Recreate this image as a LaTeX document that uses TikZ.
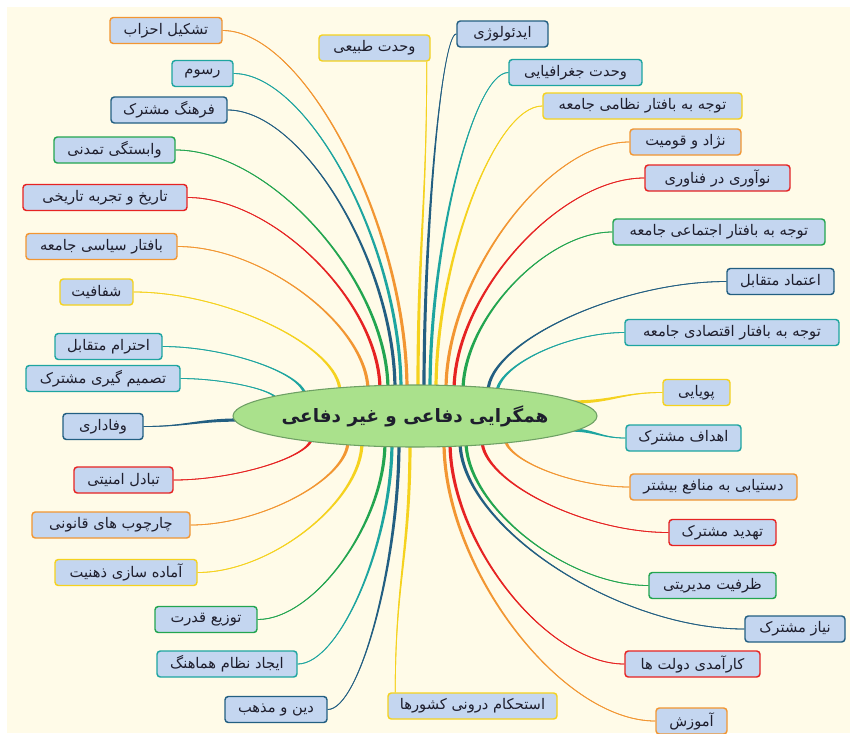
\documentclass[tikz,border=0pt]{standalone}
\usepackage{fontspec}
\usetikzlibrary{calc,shapes.geometric}
\newfontfamily\arabicfont[Script=Arabic]{DejaVu Sans}
\TeXXeTstate=1
\pgfdeclarelayer{back}\pgfdeclarelayer{conn}\pgfsetlayers{back,conn,main}
\definecolor{cOr}{RGB}{242,150,50}
\definecolor{cTe}{RGB}{30,165,160}
\definecolor{cBl}{RGB}{35,95,130}
\definecolor{cGr}{RGB}{35,165,80}
\definecolor{cRe}{RGB}{230,35,35}
\definecolor{cYe}{RGB}{245,210,30}
\definecolor{cream}{RGB}{255,251,232}
\definecolor{boxfill}{RGB}{196,214,240}
\definecolor{hubfill}{RGB}{170,225,140}
\definecolor{hubdraw}{RGB}{110,160,100}
\definecolor{txt}{RGB}{30,30,45}
\newcommand\fa[1]{\beginR#1\endR}
\def\wa{0.3pt}\def\wb{1.2pt}
\newcommand\linkdraw[1]{%
  \fill[#1] ($(S)!\wa!90:(C1)$) .. controls ($(C1)!\wa!-90:(S)$) and ($(C2)!\wb!90:(E)$) .. ($(E)!\wb!-90:(C2)$)
     -- ($(E)!\wb!90:(C2)$) .. controls ($(C2)!\wb!-90:(E)$) and ($(C1)!\wa!90:(S)$) .. ($(S)!\wa!-90:(C1)$) -- cycle;
  \draw[#1, line width=0.6pt] (S) .. controls (C1) and (C2) .. (E);}
\newcommand\linkhv[3]{%
  \path (#2) coordinate (S) (#3) coordinate (E);
  \path ($(S)!0.45!(E)$) coordinate (M1) ($(S)!0.55!(E)$) coordinate (M2);
  \path (M1 |- S) coordinate (C1) (E |- M2) coordinate (C2);
  \linkdraw{#1}}
\newcommand\linkhh[3]{%
  \path (#2) coordinate (S) (#3) coordinate (E);
  \path ($(S)!0.45!(E)$) coordinate (M1) ($(S)!0.55!(E)$) coordinate (M2);
  \path (M1 |- S) coordinate (C1) (M2 |- E) coordinate (C2);
  \linkdraw{#1}}
\newcommand\linkvv[3]{%
  \path (#2) coordinate (S) (#3) coordinate (E);
  \path ($(S)!0.45!(E)$) coordinate (M1) ($(S)!0.55!(E)$) coordinate (M2);
  \path (S |- M1) coordinate (C1) (E |- M2) coordinate (C2);
  \linkdraw{#1}}
\tikzset{
  box/.style 2 args={draw=#1, fill=boxfill, rounded corners=2.5pt, line width=1.1pt,
    minimum width=#2*0.75pt, minimum height=19.5pt, inner sep=0pt, text=txt,
    font=\arabicfont\fontsize{11}{13}\selectfont},
  hub/.style={ellipse, fill=hubfill, draw=hubdraw, line width=0.8pt,
    minimum width=273pt, minimum height=46.5pt, inner sep=0pt, text=txt,
    font=\arabicfont\bfseries\fontsize{13.8}{16}\selectfont}
}
\begin{document}
\begin{tikzpicture}[x=0.75pt,y=-0.75pt]
\useasboundingbox (0,0) rectangle (850,733);
\begin{pgfonlayer}{back}
\fill[white] (0,0) rectangle (850,733);
\fill[cream] (7,7) rectangle (850,733);
\end{pgfonlayer}
% hub
\node[hub] (hub) at (415,416) {\makebox[0pt]{\fa{همگرایی دفاعی و غیر دفاعی}}};
% left boxes
\node[box={cOr}{112}] (n1) at (166,30.5) {\fa{تشکیل احزاب}};
\node[box={cTe}{61}] (n2) at (202.5,73.5) {\fa{رسوم}};
\node[box={cBl}{116}] (n3) at (169,110) {\fa{فرهنگ مشترک}};
\node[box={cGr}{121}] (n4) at (114.5,150) {\fa{وابستگی تمدنی}};
\node[box={cRe}{164}] (n5) at (105,197.5) {\fa{تاریخ و تجربه تاریخی}};
\node[box={cOr}{151}] (n6) at (101.5,246.5) {\fa{بافتار سیاسی جامعه}};
\node[box={cYe}{73}] (n7) at (96.5,292) {\fa{شفافیت}};
\node[box={cTe}{107}] (n8) at (108.5,346.5) {\fa{احترام متقابل}};
\node[box={cTe}{154}] (n9) at (103,378.5) {\fa{تصمیم گیری مشترک}};
\node[box={cBl}{80}] (n10) at (103,426.5) {\fa{وفاداری}};
\node[box={cRe}{99}] (n11) at (123.5,480) {\fa{تبادل امنیتی}};
\node[box={cOr}{158}] (n12) at (111,525) {\fa{چارچوب های قانونی}};
\node[box={cYe}{142}] (n13) at (126,572.5) {\fa{آماده سازی ذهنیت}};
\node[box={cGr}{102}] (n14) at (206,619.5) {\fa{توزیع قدرت}};
\node[box={cTe}{140}] (n15) at (227,664) {\fa{ایجاد نظام هماهنگ}};
\node[box={cBl}{102}] (n16) at (276,709.5) {\fa{دین و مذهب}};
% top and right boxes
\node[box={cYe}{111}] (n17) at (374.5,48) {\fa{وحدت طبیعی}};
\node[box={cBl}{91}] (n18) at (502.5,34) {\fa{ایدئولوژی}};
\node[box={cTe}{133}] (n19) at (575.5,72.5) {\fa{وحدت جغرافیایی}};
\node[box={cYe}{199}] (n20) at (642.5,106) {\fa{توجه به بافتار نظامی جامعه}};
\node[box={cOr}{111}] (n21) at (685.5,142) {\fa{نژاد و قومیت}};
\node[box={cRe}{145}] (n22) at (717.5,178) {\fa{نوآوری در فناوری}};
\node[box={cGr}{212}] (n23) at (719,232) {\fa{توجه به بافتار اجتماعی جامعه}};
\node[box={cBl}{107}] (n24) at (780.5,281.5) {\fa{اعتماد متقابل}};
\node[box={cTe}{214}] (n25) at (732,332.5) {\fa{توجه به بافتار اقتصادی جامعه}};
\node[box={cYe}{67}] (n26) at (696.5,392.5) {\fa{پویایی}};
\node[box={cTe}{115}] (n27) at (683.5,438) {\fa{اهداف مشترک}};
\node[box={cOr}{167}] (n28) at (713.5,487) {\fa{دستیابی به منافع بیشتر}};
\node[box={cRe}{107}] (n29) at (722.5,532.5) {\fa{تهدید مشترک}};
\node[box={cGr}{127}] (n30) at (712.5,585.5) {\fa{ظرفیت مدیریتی}};
\node[box={cBl}{100}] (n31) at (795,629) {\fa{نیاز مشترک}};
\node[box={cRe}{135}] (n32) at (692.5,664) {\fa{کارآمدی دولت ها}};
\node[box={cOr}{71}] (n33) at (691.5,721) {\fa{آموزش}};
\node[box={cYe}{169}] (n34) at (472.5,706) {\fa{استحکام درونی کشورها}};
% connector end points on the hub
\coordinate (e1) at (407,390); \coordinate (e2) at (401,390);
\coordinate (e3) at (395,390); \coordinate (e4) at (388,390);
\coordinate (e5) at (380,390); \coordinate (e6) at (368,391);
\coordinate (e7) at (340,392); \coordinate (e8) at (305,396);
\coordinate (e9) at (277,400); \coordinate (e10) at (240,420);
\coordinate (e11) at (312,437); \coordinate (e12) at (348,441);
\coordinate (e13) at (362,442); \coordinate (e14) at (385,442);
\coordinate (e15) at (392,442); \coordinate (e16) at (399,442);
\coordinate (e17) at (418,390); \coordinate (e18) at (424,390);
\coordinate (e19) at (430,390); \coordinate (e20) at (436,390);
\coordinate (e21) at (446,390); \coordinate (e22) at (454,391);
\coordinate (e23) at (463,391); \coordinate (e24) at (488,392);
\coordinate (e25) at (497,393); \coordinate (e26) at (572,402);
\coordinate (e27) at (570,430); \coordinate (e28) at (505,438);
\coordinate (e29) at (482,440); \coordinate (e30) at (466,441);
\coordinate (e31) at (460,441); \coordinate (e32) at (450,442);
\coordinate (e33) at (444,442); \coordinate (e34) at (410,442);
\coordinate (s17) at ($(n17.south east)+(-4,0)$);
\coordinate (s34) at ($(n34.north west)+(8,0)$);
\begin{pgfonlayer}{conn}
\linkhv{cOr}{n1.east}{e1}
\linkhv{cTe}{n2.east}{e2}
\linkhv{cBl}{n3.east}{e3}
\linkhv{cGr}{n4.east}{e4}
\linkhv{cRe}{n5.east}{e5}
\linkhv{cOr}{n6.east}{e6}
\linkhv{cYe}{n7.east}{e7}
\linkhv{cTe}{n8.east}{e8}
\linkhv{cTe}{n9.east}{e9}
\linkhh{cBl}{n10.east}{e10}
\linkhv{cRe}{n11.east}{e11}
\linkhv{cOr}{n12.east}{e12}
\linkhv{cYe}{n13.east}{e13}
\linkhv{cGr}{n14.east}{e14}
\linkhv{cTe}{n15.east}{e15}
\linkhv{cBl}{n16.east}{e16}
\linkvv{cYe}{s17}{e17}
\linkhv{cBl}{n18.west}{e18}
\linkhv{cTe}{n19.west}{e19}
\linkhv{cYe}{n20.west}{e20}
\linkhv{cOr}{n21.west}{e21}
\linkhv{cRe}{n22.west}{e22}
\linkhv{cGr}{n23.west}{e23}
\linkhv{cBl}{n24.west}{e24}
\linkhv{cTe}{n25.west}{e25}
\linkhh{cYe}{n26.west}{e26}
\linkhh{cTe}{n27.west}{e27}
\linkhv{cOr}{n28.west}{e28}
\linkhv{cRe}{n29.west}{e29}
\linkhv{cGr}{n30.west}{e30}
\linkhv{cBl}{n31.west}{e31}
\linkhv{cRe}{n32.west}{e32}
\linkhv{cOr}{n33.west}{e33}
\linkvv{cYe}{s34}{e34}
\end{pgfonlayer}
\end{tikzpicture}
\end{document}
